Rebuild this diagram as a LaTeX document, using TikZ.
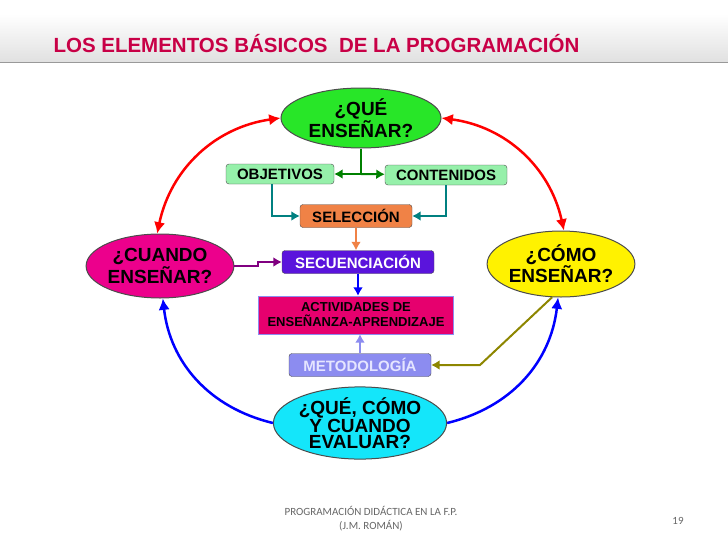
\documentclass[tikz,border=0pt]{standalone}
\usepackage{fontspec}
\setmainfont{Liberation Sans}
\newfontfamily\footfont{Carlito}
\usetikzlibrary{arrows.meta,positioning,shapes.geometric}
\definecolor{titlered}{RGB}{200,0,70}
\definecolor{qgreen}{RGB}{40,230,40}
\definecolor{boxgreen}{RGB}{150,240,170}
\definecolor{selorange}{RGB}{240,130,70}
\definecolor{secpurple}{RGB}{90,20,220}
\definecolor{actpink}{RGB}{230,0,110}
\definecolor{metblue}{RGB}{140,140,240}
\definecolor{evalcyan}{RGB}{20,230,250}
\tikzset{%
  >={Latex[width=4mm,length=4mm]},
  % Specifications for style of nodes:
  question/.style = {ellipse, draw=black!70, line width=1pt,
    inner sep=0pt, align=center, font=\bfseries\fontsize{19}{19}\selectfont},
  stage/.style = {rectangle, rounded corners=3pt, draw=black!70,
    minimum height=23pt, inner sep=0pt,
    font=\bfseries\fontsize{15}{15}\selectfont},
  link/.style = {-{Latex[width=3.5mm,length=3mm]}, line width=2pt},
}
\begin{document}
\begin{tikzpicture}[x=1pt,y=-1pt]
        \useasboundingbox (0,0) rectangle (728,546);
        % header bar
        \shade[top color=white, bottom color=black!12] (0,14) rectangle (728,62);
        \draw[black!40] (0,62) -- (728,62);
        \node(Title)[anchor=west, text=titlered,
          font=\bfseries\fontsize{20.5}{20}\selectfont] at (50,44)
          {LOS ELEMENTOS BÁSICOS \ DE LA PROGRAMACIÓN};
        % Specification of nodes (position, etc.)
        \node(Que)[question, fill=qgreen, minimum width=160pt, minimum height=60pt]
          at (361,118) {¿QUÉ\\ENSEÑAR?};
        \node(Cuando)[question, fill=magenta, minimum width=140pt, minimum height=64pt]
          at (160,266) {¿CUANDO\\ENSEÑAR?};
        \node(Como)[question, fill=yellow, minimum width=136pt, minimum height=66pt]
          at (561,264) {¿CÓMO\\ENSEÑAR?};
        \node(Eval)[question, fill=evalcyan, minimum width=160pt, minimum height=70pt,
          font=\bfseries\fontsize{19}{16}\selectfont]
          at (360,423) {¿QUÉ, CÓMO\\Y CUANDO\\EVALUAR?};
        \node(Obj)[stage, fill=boxgreen, minimum width=108pt, minimum height=20pt]
          at (280,174) {OBJETIVOS};
        \node(Cont)[stage, fill=boxgreen, minimum width=122pt, minimum height=20pt]
          at (446,175) {CONTENIDOS};
        \node(Sel)[stage, fill=selorange, minimum width=112pt] at (356,216) {SELECCIÓN};
        \node(Sec)[stage, fill=secpurple, text=white, minimum width=152pt]
          at (358,262) {SECUENCIACIÓN};
        \node(Act)[rectangle, draw=metblue, fill=actpink, minimum width=195pt,
          minimum height=38pt, align=center, inner sep=0pt,
          font=\bfseries\fontsize{13}{15}\selectfont]
          at (356,315) {ACTIVIDADES DE\\ENSEÑANZA-APRENDIZAJE};
        \node(Met)[stage, fill=metblue, text=blue!10, minimum width=142pt]
          at (360,365) {METODOLOGÍA};
        % connectors
        \coordinate(Fork) at (361,174);
        \draw[line width=2pt, green!50!black] (Que) -- (Fork);
        \draw[link, green!50!black] (Fork) -- (Obj);
        \draw[link, green!50!black] (Fork) -- (Cont);
        \draw[link, teal] (Obj.south -| 272,0) |- (Sel);
        \draw[link, teal] (Cont.south) |- (Sel);
        \draw[link, selorange] (Sel) -- (Sel |- Sec.north);
        \draw[link, violet] (Cuando.east) -- ++(24,0) |- (Sec);
        \draw[link, blue] (Sec) -- (Sec |- Act.north);
        \draw[link, metblue] (Met) -- (Met |- Act.south);
        \draw[link, olive] (Como.255) -- (480,365) -- (Met);
        \draw[<->, red, line width=2.5pt] (Cuando.95) to[bend left=35] (Que.west);
        \draw[<->, red, line width=2.5pt] (Que.east) to[bend left=35] (Como.85);
        \draw[->, blue, line width=2.5pt] (Eval.west) to[bend left=35] (Cuando.275);
        \draw[->, blue, line width=2.5pt] (Eval.east) to[bend right=35] (Como.265);
        % footer
        \node(Foot)[text=black!60, align=center, font=\footfont\fontsize{11}{14}\selectfont]
          at (371,519) {PROGRAMACIÓN DIDÁCTICA EN LA F.P.\\(J.M. ROMÁN)};
        \node(Page)[text=black!60, font=\footfont\fontsize{11}{11}\selectfont] at (678,521) {19};
\end{tikzpicture}
\end{document}
